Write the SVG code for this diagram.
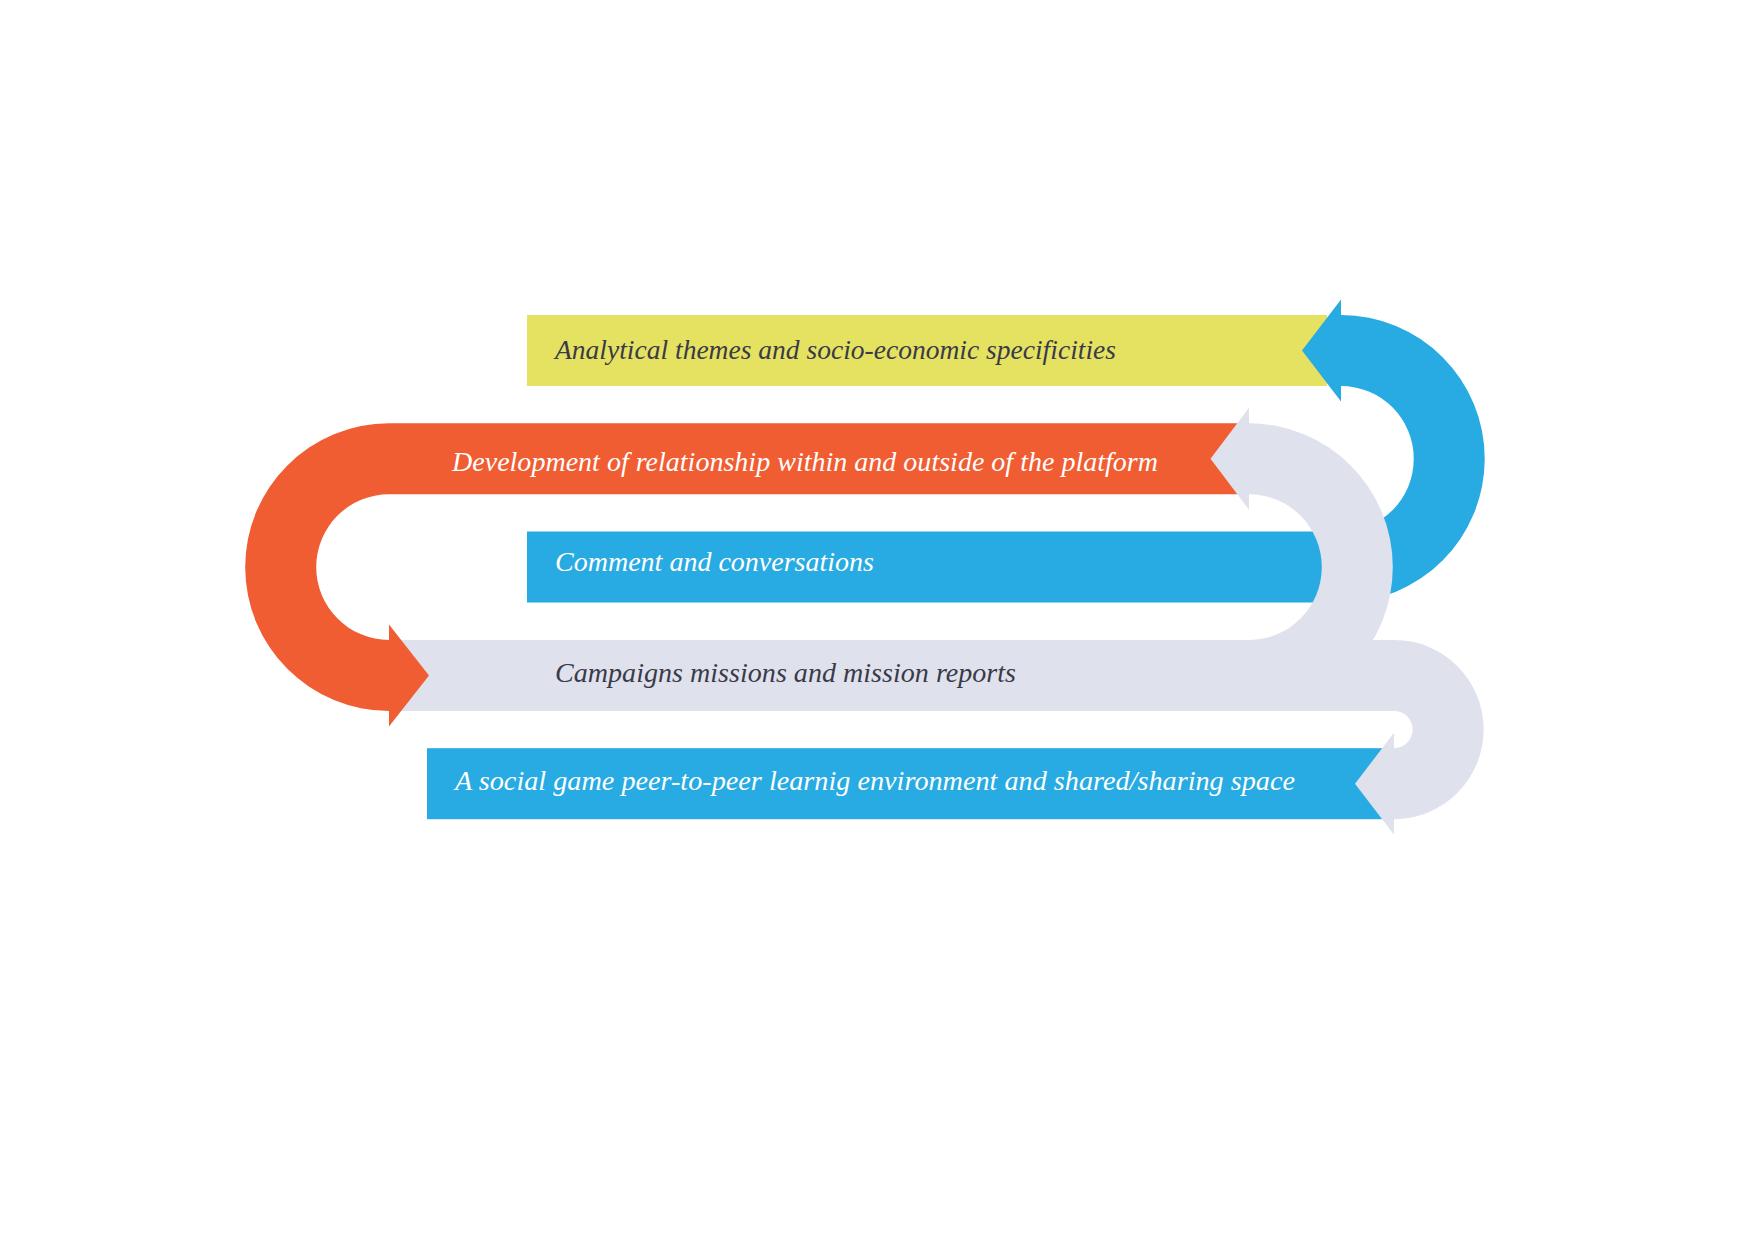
<svg xmlns="http://www.w3.org/2000/svg" width="1754" height="1240" viewBox="0 0 1754 1240">
<style>
.yellow{fill:#e5e262}
.blue{fill:#27abe2}
.orange{fill:#f15d32}
.gray{fill:#dfe2ed}
.lbl{font-family:"Liberation Serif","Times New Roman",serif;font-style:italic;font-size:27px}
.dark{fill:#3b3a48}
.light{fill:#ffffff}
</style>
<rect width="1754" height="1240" fill="#ffffff"/>
<g id="connectors">
  <g id="band-analytical">
    <rect class="yellow" x="527" y="315" width="800" height="71"/>
  </g>
  <g id="band-comment">
    <path class="blue" d="M527,531.6 H1341 A72.8,72.8 0 0 0 1341,386 V401.5 L1302,350.5 L1341,299.5 V315 A143.8,143.8 0 0 1 1341,602.6 H527 Z"/>
  </g>
  <g id="band-social">
    <rect class="blue" x="427" y="748.2" width="967" height="71"/>
  </g>
  <g id="band-campaigns">
    <path class="gray" d="M395,639.9 H1394 A89.65,89.65 0 0 1 1394,819.2 V834.7 L1355,783.7 L1394,732.7 V748.2 A18.65,18.65 0 0 0 1394,710.9 H395 Z"/>
  </g>
  <g id="band-development">
    <path class="orange" d="M1249,423.3 H389 A143.8,143.8 0 0 0 389,710.9 V726.4 L429,675.4 L389,624.4 V639.9 A72.8,72.8 0 0 1 389,494.3 H1249 Z"/>
  </g>
  <g id="loop-campaigns">
    <path class="gray" d="M1249,639.9 A72.8,72.8 0 0 0 1249,494.3 V509.8 L1210.5,458.8 L1249,407.8 V423.3 A143.8,143.8 0 0 1 1249,710.9 Z"/>
  </g>
</g>
<g id="node-analytical">
  <text class="lbl dark" x="555" y="359" textLength="561" lengthAdjust="spacingAndGlyphs">Analytical themes and socio-economic specificities</text>
</g>
<g id="node-development">
  <text class="lbl light" x="452" y="470.5" textLength="706" lengthAdjust="spacingAndGlyphs">Development of relationship within and outside of the platform</text>
</g>
<g id="node-comment">
  <text class="lbl light" x="555" y="570.5" textLength="319" lengthAdjust="spacingAndGlyphs">Comment and conversations</text>
</g>
<g id="node-campaigns">
  <text class="lbl dark" x="555" y="681.5" textLength="461" lengthAdjust="spacingAndGlyphs">Campaigns missions and mission reports</text>
</g>
<g id="node-social">
  <text class="lbl light" x="455" y="790" textLength="840" lengthAdjust="spacingAndGlyphs">A social game peer-to-peer learnig environment and shared/sharing space</text>
</g>
</svg>
